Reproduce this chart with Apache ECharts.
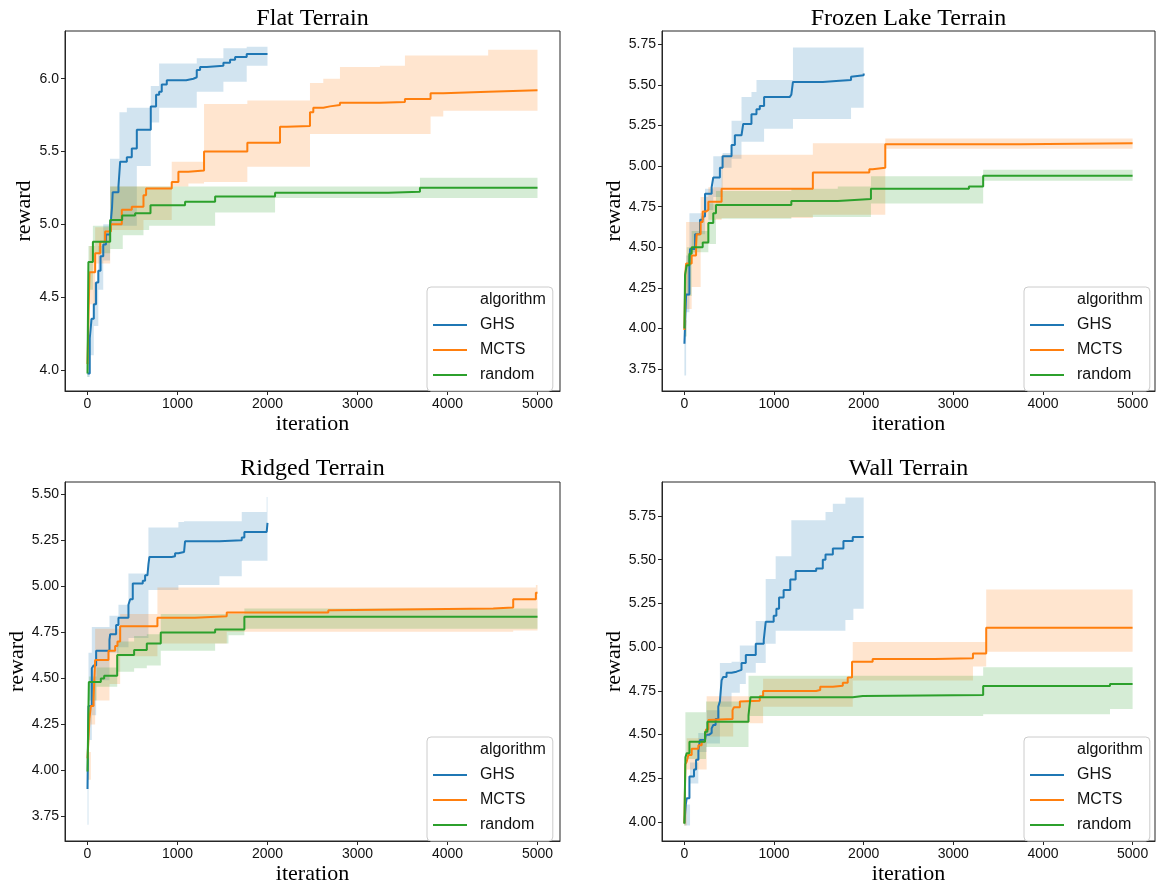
<!DOCTYPE html>
<html><head><meta charset="utf-8">
<script src="https://cdn.jsdelivr.net/npm/echarts@6/dist/echarts.min.js"></script>
<style>html,body{margin:0;padding:0;background:#fff}#c{width:1156px;height:886px}</style>
</head><body><div id="c"></div>
<script>
// ---------- tick labels ----------
const xTickLabels = ['0', '1000', '2000', '3000', '4000', '5000'];
const flatYTickLabels = ['4.0', '4.5', '5.0', '5.5', '6.0'];
const frozenYTickLabels = ['3.75', '4.00', '4.25', '4.50', '4.75', '5.00', '5.25', '5.50', '5.75'];
const ridgedYTickLabels = ['3.75', '4.00', '4.25', '4.50', '4.75', '5.00', '5.25', '5.50'];
const wallYTickLabels = ['4.00', '4.25', '4.50', '4.75', '5.00', '5.25', '5.50', '5.75'];
const algorithms = ['GHS', 'MCTS', 'random'];
const titles = ['Flat Terrain', 'Frozen Lake Terrain', 'Ridged Terrain', 'Wall Terrain'];

// ---------- Flat ----------
const flatGhsX = [0, 25, 45, 70, 95, 120, 145, 175, 205, 250, 262, 272, 280, 344, 363, 437, 492, 548, 703, 762, 796, 825, 881, 1096, 1177, 1214, 1251, 1325, 1510, 1584, 1640, 1769, 2000];
const flatGhsY = [3.975, 4.215, 4.35, 4.45, 4.60, 4.68, 4.78, 4.86, 4.93, 4.99, 5.04, 5.11, 5.22, 5.26, 5.43, 5.46, 5.52, 5.65, 5.81, 5.89, 5.91, 5.96, 5.99, 6.00, 6.01, 6.06, 6.08, 6.09, 6.11, 6.13, 6.15, 6.17, 6.17];
const flatGhsBandX = [0, 25, 70, 120, 175, 250, 355, 437, 548, 703, 796, 1214, 1510, 1769, 2000];
const flatGhsBandLo = [3.95, 4.10, 4.30, 4.55, 4.75, 4.99, 4.99, 4.99, 5.40, 5.70, 5.80, 5.91, 5.98, 6.09, 6.09];
const flatGhsBandHi = [4.05, 4.35, 4.60, 4.85, 5.00, 5.45, 5.77, 5.80, 5.80, 5.95, 6.105, 6.14, 6.21, 6.22, 6.22];

const flatMctsX = [0, 22, 85, 141, 196, 260, 381, 492, 622, 651, 936, 1010, 1121, 1295, 1776, 2139, 2213, 2472, 2509, 2620, 2694, 2805, 3249, 3527, 3812, 3953, 4452, 5000];
const flatMctsY = [4.04, 4.67, 4.80, 4.88, 4.95, 5.00, 5.10, 5.12, 5.20, 5.246, 5.29, 5.36, 5.37, 5.50, 5.56, 5.67, 5.675, 5.77, 5.80, 5.81, 5.82, 5.835, 5.84, 5.86, 5.90, 5.91, 5.92, 5.92];
const flatMctsBandX = [0, 22, 85, 252, 622, 936, 1121, 1295, 1776, 2472, 2620, 2805, 3249, 3527, 3812, 3953, 4452, 5000];
const flatMctsBandLo = [4.00, 4.45, 4.73, 4.96, 5.03, 5.26, 5.28, 5.29, 5.395, 5.62, 5.62, 5.62, 5.62, 5.62, 5.74, 5.78, 5.78, 5.78];
const flatMctsBandHi = [4.10, 4.85, 4.98, 5.26, 5.26, 5.43, 5.43, 5.826, 5.85, 5.97, 6.00, 6.08, 6.09, 6.16, 6.16, 6.16, 6.20, 6.20];

const flatRandomX = [0, 10, 60, 252, 385, 529, 700, 1084, 1418, 2084, 3342, 3694, 5000];
const flatRandomY = [3.975, 4.74, 4.88, 5.03, 5.06, 5.075, 5.13, 5.155, 5.19, 5.217, 5.223, 5.25, 5.25];
const flatRandomBandX = [0, 10, 60, 252, 392, 622, 685, 1418, 2084, 3694, 5000];
const flatRandomBandLo = [3.95, 4.55, 4.80, 4.83, 4.925, 4.96, 4.99, 5.08, 5.18, 5.18, 5.18];
const flatRandomBandHi = [4.00, 4.85, 4.99, 5.26, 5.26, 5.26, 5.26, 5.26, 5.26, 5.32, 5.32];

// ---------- Frozen Lake ----------
const frozenGhsX = [0, 19, 56, 63, 119, 174, 204, 230, 304, 322, 396, 426, 526, 563, 637, 656, 748, 804, 841, 889, 1174, 1193, 1211, 1544, 1693, 1859, 1878, 2000];
const frozenGhsY = [3.906, 4.21, 4.40, 4.49, 4.58, 4.67, 4.69, 4.83, 4.87, 4.93, 4.99, 5.06, 5.13, 5.19, 5.20, 5.26, 5.32, 5.35, 5.37, 5.425, 5.43, 5.44, 5.518, 5.524, 5.53, 5.55, 5.56, 5.57];
const frozenGhsBandX = [0, 19, 56, 119, 230, 322, 426, 526, 637, 748, 804, 889, 1211, 1859, 2000];
const frozenGhsBandLo = [3.71, 4.10, 4.46, 4.58, 4.73, 4.81, 4.99, 5.045, 5.15, 5.15, 5.15, 5.23, 5.29, 5.36, 5.36];
const frozenGhsBandHi = [4.03, 4.45, 4.71, 4.71, 4.86, 5.06, 5.08, 5.28, 5.425, 5.456, 5.53, 5.53, 5.73, 5.73, 5.73];

const frozenMctsX = [0, 11, 19, 81, 130, 137, 181, 204, 241, 267, 415, 1433, 2063, 2100, 2241, 3748, 5000];
const frozenMctsY = [3.99, 4.34, 4.40, 4.45, 4.51, 4.58, 4.655, 4.72, 4.73, 4.78, 4.86, 4.96, 4.98, 4.99, 5.135, 5.14, 5.14];
const frozenMctsBandX = [0, 19, 81, 181, 267, 415, 1433, 2241, 5000];
const frozenMctsBandLo = [3.95, 4.12, 4.255, 4.52, 4.67, 4.68, 4.70, 5.107, 5.107];
const frozenMctsBandHi = [4.05, 4.655, 4.655, 4.81, 4.87, 5.07, 5.14, 5.17, 5.17];

const frozenRandomX = [0, 7, 26, 56, 81, 204, 267, 322, 352, 1193, 1711, 2081, 3174, 3333, 5000];
const frozenRandomY = [4.00, 4.33, 4.39, 4.46, 4.50, 4.53, 4.65, 4.71, 4.76, 4.785, 4.797, 4.86, 4.875, 4.94, 4.94];
const frozenRandomBandX = [0, 26, 81, 267, 352, 1193, 1711, 2081, 3333, 5000];
const frozenRandomBandLo = [3.95, 4.20, 4.47, 4.52, 4.676, 4.686, 4.686, 4.77, 4.91, 4.91];
const frozenRandomBandHi = [4.05, 4.50, 4.60, 4.77, 4.847, 4.86, 4.875, 4.937, 4.978, 4.978];

// ---------- Ridged ----------
const ridgedGhsX = [0, 11, 48, 67, 96, 244, 252, 318, 344, 455, 474, 503, 614, 640, 666, 677, 688, 936, 973, 1010, 1073, 1084, 1466, 1714, 1743, 1991, 2000];
const ridgedGhsY = [3.90, 4.35, 4.555, 4.57, 4.65, 4.71, 4.74, 4.79, 4.83, 4.90, 4.93, 5.016, 5.03, 5.06, 5.07, 5.12, 5.16, 5.164, 5.18, 5.187, 5.196, 5.245, 5.25, 5.265, 5.296, 5.305, 5.345];
const ridgedGhsBandX = [0, 11, 48, 96, 244, 344, 455, 677, 1010, 1073, 1466, 1714, 1991, 2000];
const ridgedGhsBandLo = [3.705, 4.165, 4.30, 4.49, 4.64, 4.67, 4.72, 4.98, 5.007, 5.007, 5.055, 5.139, 5.139, 5.139];
const ridgedGhsBandHi = [4.00, 4.64, 4.78, 4.78, 4.84, 4.90, 5.07, 5.32, 5.35, 5.354, 5.354, 5.404, 5.486, 5.486];

const ridgedMctsX = [0, 22, 37, 67, 85, 233, 307, 333, 363, 777, 1195, 1547, 2676, 2713, 4508, 4730, 4982, 5000];
const ridgedMctsY = [4.066, 4.28, 4.35, 4.39, 4.60, 4.65, 4.676, 4.70, 4.784, 4.83, 4.838, 4.858, 4.87, 4.88, 4.885, 4.93, 4.965, 4.965];
const ridgedMctsBandX = [0, 37, 85, 244, 363, 777, 1547, 4730, 4982, 5000];
const ridgedMctsBandLo = [3.95, 4.25, 4.38, 4.47, 4.62, 4.69, 4.753, 4.76, 4.76, 4.76];
const ridgedMctsBandHi = [4.10, 4.50, 4.77, 4.77, 4.85, 4.994, 4.994, 4.994, 5.007, 5.007];

const ridgedRandomX = [0, 15, 148, 185, 330, 518, 659, 814, 1418, 1743, 5000];
const ridgedRandomY = [3.994, 4.48, 4.50, 4.515, 4.627, 4.654, 4.69, 4.75, 4.766, 4.835, 4.835];
const ridgedRandomBandX = [0, 15, 100, 330, 518, 659, 814, 1418, 1566, 1743, 5000];
const ridgedRandomBandLo = [3.95, 4.38, 4.455, 4.536, 4.555, 4.57, 4.65, 4.69, 4.735, 4.77, 4.77];
const ridgedRandomBandHi = [4.05, 4.51, 4.56, 4.70, 4.73, 4.74, 4.85, 4.85, 4.85, 4.88, 4.88];

// ---------- Wall ----------
const wallGhsX = [0, 15, 26, 56, 107, 130, 156, 174, 230, 241, 278, 304, 322, 348, 378, 396, 415, 433, 470, 526, 581, 637, 685, 796, 885, 907, 996, 1026, 1056, 1107, 1181, 1241, 1470, 1544, 1574, 1656, 1774, 1878, 2000];
const wallGhsY = [3.994, 4.10, 4.137, 4.26, 4.30, 4.356, 4.41, 4.47, 4.48, 4.50, 4.51, 4.536, 4.555, 4.59, 4.66, 4.69, 4.81, 4.83, 4.854, 4.86, 4.87, 4.91, 4.955, 5.02, 5.04, 5.145, 5.18, 5.22, 5.284, 5.326, 5.387, 5.436, 5.45, 5.50, 5.53, 5.564, 5.607, 5.63, 5.63];
const wallGhsBandX = [0, 63, 155, 248, 396, 526, 618, 685, 796, 907, 1018, 1193, 1574, 1656, 1796, 1885, 2000];
const wallGhsBandLo = [3.98, 4.22, 4.40, 4.45, 4.66, 4.74, 4.79, 4.854, 4.91, 5.02, 5.094, 5.094, 5.094, 5.094, 5.155, 5.22, 5.22];
const wallGhsBandHi = [4.10, 4.34, 4.51, 4.64, 4.91, 4.917, 5.01, 5.01, 5.15, 5.39, 5.52, 5.725, 5.773, 5.82, 5.855, 5.855, 5.855];

const wallMctsX = [0, 11, 26, 44, 81, 156, 193, 230, 241, 267, 278, 537, 552, 619, 637, 841, 878, 1470, 1515, 1656, 1767, 1822, 1870, 2100, 2796, 3219, 3367, 5000];
const wallMctsY = [3.994, 4.33, 4.346, 4.384, 4.42, 4.44, 4.46, 4.49, 4.53, 4.584, 4.59, 4.64, 4.656, 4.69, 4.694, 4.72, 4.749, 4.755, 4.774, 4.78, 4.797, 4.826, 4.917, 4.932, 4.936, 4.964, 5.111, 5.111];
const wallMctsBandX = [0, 26, 248, 544, 878, 1878, 3219, 3367, 5000];
const wallMctsBandLo = [3.98, 4.30, 4.49, 4.565, 4.66, 4.81, 4.89, 4.974, 4.974];
const wallMctsBandHi = [4.10, 4.48, 4.72, 4.72, 4.82, 5.03, 5.03, 5.33, 5.33];

const wallRandomX = [0, 11, 26, 56, 230, 256, 715, 737, 1878, 1989, 3333, 4748, 5000];
const wallRandomY = [3.99, 4.37, 4.394, 4.46, 4.517, 4.574, 4.61, 4.713, 4.721, 4.727, 4.778, 4.79, 4.79];
const wallRandomBandX = [0, 11, 241, 715, 3333, 4748, 5000];
const wallRandomBandLo = [3.98, 4.36, 4.43, 4.607, 4.616, 4.647, 4.647];
const wallRandomBandHi = [4.02, 4.628, 4.69, 4.837, 4.885, 4.885, 4.885];

// ---------- layout / style ----------
const colors = ['#1f77b4', '#ff7f0e', '#2ca02c'];
const bandColors = ['rgba(31,119,180,0.2)', 'rgba(255,127,14,0.2)', 'rgba(44,160,44,0.2)'];
const SERIF = '"Liberation Serif", "Times New Roman", serif';
const SANS = '"Liberation Sans", Arial, sans-serif';

const panels = [
  { grid: { left: 65, top: 31, width: 495, height: 360 }, yMin: 3.854, yMax: 6.328, yTicks: flatYTickLabels,
    lines: [[flatGhsX, flatGhsY], [flatMctsX, flatMctsY], [flatRandomX, flatRandomY]],
    bands: [[flatGhsBandX, flatGhsBandLo, flatGhsBandHi], [flatMctsBandX, flatMctsBandLo, flatMctsBandHi], [flatRandomBandX, flatRandomBandLo, flatRandomBandHi]],
    legend: { left: 427, top: 287 }, titleY: 19 },
  { grid: { left: 662, top: 31, width: 493, height: 360 }, yMin: 3.615, yMax: 5.832, yTicks: frozenYTickLabels,
    lines: [[frozenGhsX, frozenGhsY], [frozenMctsX, frozenMctsY], [frozenRandomX, frozenRandomY]],
    bands: [[frozenGhsBandX, frozenGhsBandLo, frozenGhsBandHi], [frozenMctsBandX, frozenMctsBandLo, frozenMctsBandHi], [frozenRandomBandX, frozenRandomBandLo, frozenRandomBandHi]],
    legend: { left: 1024, top: 287 }, titleY: 19 },
  { grid: { left: 65, top: 482, width: 495, height: 359 }, yMin: 3.617, yMax: 5.567, yTicks: ridgedYTickLabels,
    lines: [[ridgedGhsX, ridgedGhsY], [ridgedMctsX, ridgedMctsY], [ridgedRandomX, ridgedRandomY]],
    bands: [[ridgedGhsBandX, ridgedGhsBandLo, ridgedGhsBandHi], [ridgedMctsBandX, ridgedMctsBandLo, ridgedMctsBandHi], [ridgedRandomBandX, ridgedRandomBandLo, ridgedRandomBandHi]],
    legend: { left: 427, top: 737 }, titleY: 469 },
  { grid: { left: 662, top: 482, width: 493, height: 359 }, yMin: 3.892, yMax: 5.944, yTicks: wallYTickLabels,
    lines: [[wallGhsX, wallGhsY], [wallMctsX, wallMctsY], [wallRandomX, wallRandomY]],
    bands: [[wallGhsBandX, wallGhsBandLo, wallGhsBandHi], [wallMctsBandX, wallMctsBandLo, wallMctsBandHi], [wallRandomBandX, wallRandomBandLo, wallRandomBandHi]],
    legend: { left: 1024, top: 737 }, titleY: 469 }
];

const xTickValues = xTickLabels.map(Number);

function bandRenderer(bx, lo, hi, fill) {
  return function (params, api) {
    if (params.dataIndex !== 0) return null;
    const top = [], bot = [];
    for (let i = 0; i < bx.length; i++) {
      const x0 = bx[i], x1 = i + 1 < bx.length ? bx[i + 1] : bx[i];
      top.push(api.coord([x0, hi[i]]), api.coord([x1, hi[i]]));
      bot.push(api.coord([x0, lo[i]]), api.coord([x1, lo[i]]));
    }
    return { type: 'polygon', shape: { points: top.concat(bot.reverse()) }, style: { fill: fill }, silent: true };
  };
}

const grids = [], xAxes = [], yAxes = [], series = [], legends = [], graphics = [];
panels.forEach(function (p, pi) {
  grids.push(Object.assign({ show: true, borderColor: '#262626', borderWidth: 1, backgroundColor: '#fff' }, p.grid));
  xAxes.push({
    gridIndex: pi, type: 'value', min: -250, max: 5250,
    axisLine: { show: true, onZero: false, lineStyle: { color: '#262626', width: 1 } },
    axisTick: { show: true, length: 4, customValues: xTickValues, lineStyle: { color: '#262626' } },
    axisLabel: { customValues: xTickValues, margin: 6, fontFamily: SANS, fontSize: 14, color: '#111',
      formatter: function (v) { return String(v); } },
    splitLine: { show: false },
    name: 'iteration', nameLocation: 'middle', nameGap: 22,
    nameTextStyle: { fontFamily: SERIF, fontSize: 22, color: '#000' }
  });
  const yVals = p.yTicks.map(Number);
  const dec = p.yTicks[0].split('.')[1].length;
  yAxes.push({
    gridIndex: pi, type: 'value', min: p.yMin, max: p.yMax,
    axisLine: { show: true, onZero: false, lineStyle: { color: '#262626', width: 1 } },
    axisTick: { show: true, length: 4, customValues: yVals, lineStyle: { color: '#262626' } },
    axisLabel: { customValues: yVals, margin: 6, fontFamily: SANS, fontSize: 14, color: '#111',
      formatter: function (v) { return Number(v).toFixed(dec); } },
    splitLine: { show: false },
    name: 'reward', nameLocation: 'middle', nameGap: 30,
    nameTextStyle: { fontFamily: SERIF, fontSize: 22, color: '#000' }
  });
  p.bands.forEach(function (b, ai) {
    series.push({
      type: 'custom', xAxisIndex: pi, yAxisIndex: pi, z: 1, silent: true,
      renderItem: bandRenderer(b[0], b[1], b[2], bandColors[ai]),
      encode: { x: 0, y: [1, 2] },
      data: b[0].map(function (x, i) { return [x, b[1][i], b[2][i]]; })
    });
  });
  p.lines.forEach(function (l, ai) {
    series.push({
      type: 'line', name: algorithms[ai], xAxisIndex: pi, yAxisIndex: pi, z: 3,
      step: 'end', symbol: 'none', showSymbol: false,
      lineStyle: { color: colors[ai], width: 2 }, itemStyle: { color: colors[ai] },
      data: l[0].map(function (x, i) { return [x, l[1][i]]; })
    });
  });
  legends.push({
    left: p.legend.left, top: p.legend.top, orient: 'vertical', selectedMode: false,
    data: [{ name: 'algorithm', icon: 'none' }].concat(algorithms.map(function (a) { return { name: a, icon: 'inherit' }; })),
    itemWidth: 34, itemHeight: 14, itemGap: 9,
    itemStyle: { opacity: 0 },
    padding: [5, 7, 8, 5],
    backgroundColor: 'rgba(255,255,255,0.8)', borderColor: '#cccccc', borderWidth: 1, borderRadius: 4,
    textStyle: { fontFamily: SANS, fontSize: 16, color: '#111', padding: [0, 0, 0, 8] }
  });
  graphics.push({
    type: 'text', x: p.grid.left + p.grid.width / 2, y: p.titleY, z: 10,
    style: { text: titles[pi], fontFamily: SERIF, fontSize: 24, fill: '#000', align: 'center', verticalAlign: 'middle' }
  });
});
series.push({ type: 'line', name: 'algorithm', xAxisIndex: 0, yAxisIndex: 0, data: [], symbol: 'none' });

const chart = echarts.init(document.getElementById('c'), null, { renderer: 'canvas' });
chart.setOption({
  animation: false,
  backgroundColor: '#fff',
  grid: grids, xAxis: xAxes, yAxis: yAxes, legend: legends, series: series, graphic: graphics
});
</script></body></html>
